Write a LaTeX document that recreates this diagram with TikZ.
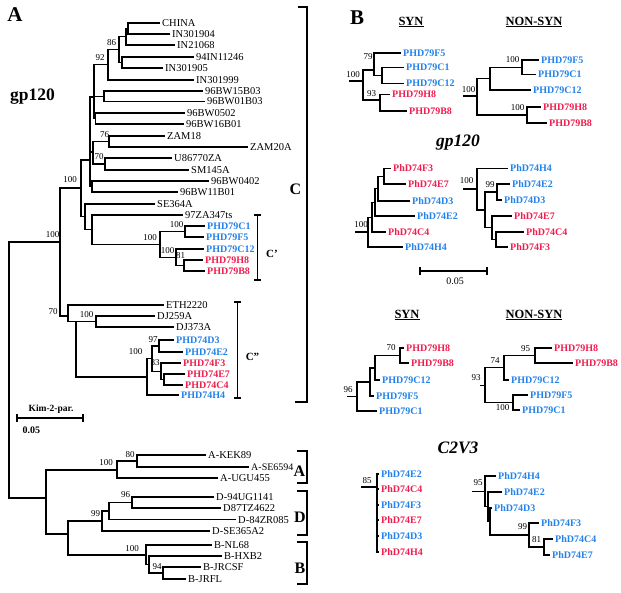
\documentclass[tikz,border=0pt]{standalone}
\usepackage{fontspec}
\setmainfont{Liberation Serif}
\newcommand{\fsz}[1]{\fontsize{#1}{#1}\selectfont}
\definecolor{tblue}{RGB}{35,130,235}
\definecolor{tred}{RGB}{240,30,80}
\tikzset{
 br/.style={line width=1.3pt},
 tipA/.style={anchor=west, inner xsep=2pt, inner ysep=0pt, text height=7pt, text depth=0pt, font=\fsz{10.5}},
 tipAc/.style={tipA, font=\bfseries\fsz{10}},
 tipB/.style={anchor=west, inner xsep=2pt, inner ysep=0pt, text height=7pt, text depth=0pt, font=\bfseries\fsz{10}},
 bs/.style={inner sep=0pt, font=\fsz{9}},
 ilab/.style={inner sep=0pt, font=\bfseries\itshape\fsz{17.5}},
 panel/.style={inner sep=0pt, font=\bfseries\fsz{21}},
 clade/.style={inner sep=0pt, font=\bfseries\fsz{16}},
 hdr/.style={inner sep=0pt, font=\bfseries\fsz{12.5}},
 blu/.style={text=tblue}, rd/.style={text=tred},
}
\newcommand{\kids}[2]{\foreach \ch in {#2} {\draw[br] (#1) |- (\ch);}}
\begin{document}
\begin{tikzpicture}[x=1pt,y=-1pt]
\useasboundingbox (0,0) rectangle (621,593);
\fill[white] (0,0) rectangle (621,593);
% ---------------- Panel A ----------------
\node[panel] (labA) at (15,15) {A};
\node[inner sep=0pt, font=\bfseries\fsz{17.5}] (gpA) at (32.5,97) {gp120};
% tips
\node[tipA] (t1) at (160,23) {CHINA};
\node[tipA] (t2) at (170,34) {IN301904};
\node[tipA] (t3) at (175,45) {IN21068};
\node[tipA] (t4) at (194,57) {94IN11246};
\node[tipA] (t5) at (163,68) {IN301905};
\node[tipA] (t6) at (194,80) {IN301999};
\node[tipA] (t7) at (203,91) {96BW15B03};
\node[tipA] (t8) at (205,101.5) {96BW01B03};
\node[tipA] (t9) at (185,113) {96BW0502};
\node[tipA] (t10) at (184,124) {96BW16B01};
\node[tipA] (t11) at (165,136) {ZAM18};
\node[tipA] (t12) at (248,147) {ZAM20A};
\node[tipA] (t13) at (172,158) {U86770ZA};
\node[tipA] (t14) at (189,170) {SM145A};
\node[tipA] (t15) at (209,181) {96BW0402};
\node[tipA] (t16) at (178,192) {96BW11B01};
\node[tipA] (t17) at (155,204) {SE364A};
\node[tipA] (t18) at (183,215) {97ZA347ts};
\node[tipAc,blu] (t19) at (205,226) {PHD79C1};
\node[tipAc,blu] (t20) at (204,237) {PHD79F5};
\node[tipAc,blu] (t21) at (204,249) {PHD79C12};
\node[tipAc,rd] (t22) at (203,260) {PHD79H8};
\node[tipAc,rd] (t23) at (205,271) {PHD79B8};
\node[tipA] (t24) at (164,305) {ETH2220};
\node[tipA] (t25) at (155,316) {DJ259A};
\node[tipA] (t26) at (174,327) {DJ373A};
\node[tipAc,blu] (t27) at (174,340) {PHD74D3};
\node[tipAc,blu] (t28) at (183,352) {PHD74E2};
\node[tipAc,rd] (t29) at (181,363) {PHD74F3};
\node[tipAc,rd] (t30) at (185,374) {PHD74E7};
\node[tipAc,rd] (t31) at (183,385) {PHD74C4};
\node[tipAc,blu] (t32) at (179,395) {PHD74H4};
\node[tipA] (t33) at (206,455) {A-KEK89};
\node[tipA, font=\fsz{10}] (t34) at (249,467) {A-SE6594};
\node[tipA] (t35) at (218,478) {A-UGU455};
\node[tipA] (t36) at (214,497) {D-94UG1141};
\node[tipA] (t37) at (221,508) {D87TZ4622};
\node[tipA] (t38) at (236,519.5) {D-84ZR085};
\node[tipA] (t39) at (210,531) {D-SE365A2};
\node[tipA] (t40) at (212,545) {B-NL68};
\node[tipA] (t41) at (222,556) {B-HXB2};
\node[tipA] (t42) at (201,567) {B-JRCSF};
\node[tipA] (t43) at (186,579) {B-JRFL};
% internal nodes
\coordinate (na) at (128,28.5);
\coordinate (nb) at (126,36.75);
\coordinate (nc) at (122,62.5);
\coordinate (nd) at (119,49.6);
\coordinate (ne) at (108,64.8);
\coordinate (nf) at (104,96.25);
\coordinate (ng) at (95.5,118.5);
\coordinate (nh) at (94,97);
\coordinate (nz) at (109,141.5);
\coordinate (nu) at (105,164);
\coordinate (nk) at (93,152);
\coordinate (nw) at (92,186.5);
\coordinate (nj) at (90,160);
\coordinate (n79a) at (185,231.5);
\coordinate (n79c) at (184,265.5);
\coordinate (n79b) at (176,257.25);
\coordinate (n79) at (160,244.4);
\coordinate (n97) at (92,229.7);
\coordinate (nse) at (85,216.85);
\coordinate (nc1) at (81,188);
\coordinate (ndj) at (96,321.5);
\coordinate (n74a) at (159,346);
\coordinate (n74e) at (164,379.5);
\coordinate (n74f) at (161,371.25);
\coordinate (n74g) at (152,358.6);
\coordinate (n74h) at (147,377);
\coordinate (n76) at (76,321.5);
\coordinate (n68) at (68,316);
\coordinate (nC) at (60,242);
\coordinate (naa) at (137,461);
\coordinate (nA) at (117,470);
\coordinate (nd2) at (132,502.5);
\coordinate (nd1) at (109,511);
\coordinate (nD) at (102,521);
\coordinate (nb3) at (163,573);
\coordinate (nb2) at (149,564.5);
\coordinate (nB) at (146,555);
\coordinate (nDB) at (68,534);
\coordinate (nABD) at (46,498);
\coordinate (root) at (9,400);
% branches
\kids{na}{t1,t2}
\kids{nb}{na,t3}
\kids{nc}{t4,t5}
\kids{nd}{nb,nc}
\kids{ne}{nd,t6}
\kids{nf}{t7,t8}
\kids{ng}{t9,t10}
\kids{nh}{ne,nf,ng}
\kids{nz}{t11,t12}
\kids{nu}{t13,t14}
\kids{nk}{nz,nu}
\kids{nw}{t15,t16}
\kids{nj}{nh,nk,nw}
\kids{n79a}{t19,t20}
\kids{n79c}{t22,t23}
\kids{n79b}{t21,n79c}
\kids{n79}{n79a,n79b}
\kids{n97}{t18,n79}
\kids{nse}{t17,n97}
\kids{nc1}{nj,nse}
\kids{ndj}{t25,t26}
\kids{n74a}{t27,t28}
\kids{n74e}{t30,t31}
\kids{n74f}{t29,n74e}
\kids{n74g}{n74a,n74f}
\kids{n74h}{n74g,t32}
\kids{n76}{ndj,n74h}
\kids{n68}{t24,n76}
\kids{nC}{nc1,n68}
\kids{naa}{t33,t34}
\kids{nA}{naa,t35}
\kids{nd2}{t36,t37}
\kids{nd1}{nd2,t38}
\kids{nD}{nd1,t39}
\kids{nb3}{t42,t43}
\kids{nb2}{t41,nb3}
\kids{nB}{t40,nb2}
\kids{nDB}{nD,nB}
\kids{nABD}{nA,nDB}
\kids{root}{nC,nABD}
% bootstrap values
\node[bs] (bv1) at (111.5,42.5) {86};
\node[bs] (bv2) at (100,57.5) {92};
\node[bs] (bv3) at (104.5,135) {76};
\node[bs] (bv4) at (99,156.5) {70};
\node[bs] (bv5) at (70,180) {100};
\node[bs] (bv6) at (52.5,235) {100};
\node[bs] (bv7) at (176.5,225) {100};
\node[bs] (bv8) at (150,238) {100};
\node[bs] (bv9) at (167.5,251) {100};
\node[bs] (bv10) at (180.5,256) {81};
\node[bs] (bv11) at (53,312) {70};
\node[bs] (bv12) at (86.5,315) {100};
\node[bs] (bv13) at (153,339.5) {97};
\node[bs] (bv14) at (135.5,352) {100};
\node[bs] (bv15) at (155,363) {83};
\node[bs] (bv16) at (130,454.5) {80};
\node[bs] (bv17) at (106,462.5) {100};
\node[bs] (bv18) at (125.5,494.5) {96};
\node[bs] (bv19) at (95.5,514) {99};
\node[bs] (bv20) at (132,549) {100};
\node[bs] (bv21) at (157,567) {94};
% clade brackets
\draw[br] (298,7) -- (307,7) -- (307,402) -- (295,402);
\node[clade] (cC) at (295.5,189) {C};
\draw[br] (254,215) -- (261,215) (257.5,215) -- (257.5,280) (254,280) -- (261,280);
\node[inner sep=0pt, font=\bfseries\fsz{11}] (cC1) at (272,254) {C'};
\draw[br] (234,302) -- (241,302) (237.5,302) -- (237.5,398) (234,398) -- (241,398);
\node[inner sep=0pt, font=\bfseries\fsz{11}] (cC2) at (252.5,357) {C''};
\draw[br] (297,451) -- (307,451) -- (307,483) -- (297,483);
\node[clade] (cA) at (299.5,471) {A};
\draw[br] (297,491) -- (307,491) -- (307,535) -- (297,535);
\node[clade] (cD) at (300,517.5) {D};
\draw[br] (297,542) -- (307,542) -- (307,584) -- (297,584);
\node[clade] (cB) at (300,568.5) {B};
% scale bar A
\draw[br] (17,414) -- (17,422) (17,418) -- (83,418) (83,414) -- (83,422);
\node[inner sep=0pt, font=\bfseries\fsz{9.5}] (kim) at (51,409) {Kim-2-par.};
\node[inner sep=0pt, font=\bfseries\fsz{10}] (sc1) at (31.5,430) {0.05};
% ---------------- Panel B ----------------
\node[panel] (labB) at (357,18) {B};
\node[hdr] (h1) at (411,22) {\underline{SYN}};
\node[hdr] (h2) at (534,22) {\underline{NON-SYN}};
\node[hdr] (h3) at (407,315) {\underline{SYN}};
\node[hdr] (h4) at (534,315) {\underline{NON-SYN}};
\node[ilab] (g1) at (458,143) {gp120};
\node[ilab] (g2) at (458,448) {C2V3};
% B1
\node[tipB,blu] (u1) at (401,53) {PHD79F5};
\node[tipB,blu] (u2) at (404,67.5) {PHD79C1};
\node[tipB,blu] (u3) at (404,83.5) {PHD79C12};
\node[tipB,rd] (u4) at (390,94.5) {PHD79H8};
\node[tipB,rd] (u5) at (407,111) {PHD79B8};
\coordinate (s1) at (349,81);
\coordinate (b1r) at (363,81);
\coordinate (b1n) at (374,70);
\coordinate (b1a) at (382,75.5);
\coordinate (b1h) at (380,100);
\draw[br] (s1) -- (b1r);
\kids{b1r}{b1n,b1h}
\kids{b1n}{u1,b1a}
\kids{b1a}{u2,u3}
\kids{b1h}{u4,u5}
\node[bs] (bb1) at (368,56.5) {79};
\node[bs] (bb2) at (353,75) {100};
\node[bs] (bb3) at (371.5,94) {93};
% B2
\node[tipB,blu] (v1) at (539,60) {PHD79F5};
\node[tipB,blu] (v2) at (536,74.5) {PHD79C1};
\node[tipB,blu] (v3) at (531,90) {PHD79C12};
\node[tipB,rd] (v4) at (541,107) {PHD79H8};
\node[tipB,rd] (v5) at (547,123) {PHD79B8};
\coordinate (s2) at (463,96);
\coordinate (b2r) at (477,96);
\coordinate (b2b) at (490,78.5);
\coordinate (b2a) at (522,67.25);
\coordinate (b2c) at (527,115);
\draw[br] (s2) -- (b2r);
\kids{b2r}{b2b,b2c}
\kids{b2b}{b2a,v3}
\kids{b2a}{v1,v2}
\kids{b2c}{v4,v5}
\node[bs] (bb4) at (512.5,60) {100};
\node[bs] (bb5) at (517.5,107.5) {100};
\node[bs] (bb6) at (468.5,89.5) {100};
% B3
\node[tipB,rd] (w1) at (391,168.5) {PhD74F3};
\node[tipB,rd] (w2) at (406,184) {PhD74E7};
\node[tipB,blu] (w3) at (410,201) {PhD74D3};
\node[tipB,blu] (w4) at (415,216) {PhD74E2};
\node[tipB,rd] (w5) at (386,232) {PhD74C4};
\node[tipB,blu] (w6) at (403,247) {PhD74H4};
\coordinate (s3) at (355,232);
\coordinate (b3e) at (368,232);
\coordinate (b3d) at (372,217.2);
\coordinate (b3c) at (375,202.3);
\coordinate (b3b) at (378,188.6);
\coordinate (b3a) at (384,176.25);
\draw[br] (s3) -- (b3e);
\kids{b3e}{b3d,w6}
\kids{b3d}{b3c,w5}
\kids{b3c}{b3b,w4}
\kids{b3b}{b3a,w3}
\kids{b3a}{w1,w2}
\node[bs] (bb7) at (361,225) {100};
% B4
\node[tipB,blu] (x1) at (508,168.5) {PhD74H4};
\node[tipB,blu] (x2) at (510,184) {PhD74E2};
\node[tipB,blu] (x3) at (502,200) {PhD74D3};
\node[tipB,rd] (x4) at (512,216) {PhD74E7};
\node[tipB,rd] (x5) at (524,232) {PhD74C4};
\node[tipB,rd] (x6) at (508,247) {PhD74F3};
\coordinate (s4) at (463,189);
\coordinate (r4) at (477,189);
\coordinate (b4a) at (485,209.9);
\coordinate (b4b) at (497,192);
\coordinate (b4c) at (492,227.75);
\coordinate (b4d) at (496,239.5);
\draw[br] (s4) -- (r4);
\kids{r4}{x1,b4a}
\kids{b4a}{b4b,b4c}
\kids{b4b}{x2,x3}
\kids{b4c}{x4,b4d}
\kids{b4d}{x5,x6}
\node[bs] (bb8) at (466.5,181) {100};
\node[bs] (bb9) at (490,185) {99};
% scale bar B
\draw[br] (420,267) -- (420,275) (420,271) -- (487,271) (487,267) -- (487,275);
\node[inner sep=0pt, font=\fsz{10}] (sc2) at (455,281) {0.05};
% B5
\node[tipB,rd] (y1) at (404,348) {PHD79H8};
\node[tipB,rd] (y2) at (409,363) {PHD79B8};
\node[tipB,blu] (y3) at (380,380) {PHD79C12};
\node[tipB,blu] (y4) at (374,396) {PHD79F5};
\node[tipB,blu] (y5) at (377,411) {PHD79C1};
\coordinate (s5) at (347,396.5);
\coordinate (b5d) at (357,396.5);
\coordinate (b5c) at (370,382);
\coordinate (b5b) at (375,368);
\coordinate (b5a) at (400,355.5);
\draw[br] (s5) -- (b5d);
\kids{b5d}{b5c,y5}
\kids{b5c}{b5b,y4}
\kids{b5b}{b5a,y3}
\kids{b5a}{y1,y2}
\node[bs] (bb10) at (391,348) {70};
\node[bs] (bb11) at (348,390) {96};
% B6
\node[tipB,rd] (z1) at (552,348) {PHD79H8};
\node[tipB,rd] (z2) at (573,363) {PHD79B8};
\node[tipB,blu] (z3) at (509,380) {PHD79C12};
\node[tipB,blu] (z4) at (528,395) {PHD79F5};
\node[tipB,blu] (z5) at (520,410) {PHD79C1};
\coordinate (s6) at (480,385.6);
\coordinate (b6r) at (485,385.6);
\coordinate (b6b) at (504,367.75);
\coordinate (b6a) at (535,355.5);
\coordinate (b6c) at (513,402.5);
\draw[br] (s6) -- (b6r);
\kids{b6r}{b6b,b6c}
\kids{b6b}{b6a,z3}
\kids{b6a}{z1,z2}
\kids{b6c}{z4,z5}
\node[bs] (bb12) at (525.5,349) {95};
\node[bs] (bb13) at (495,361) {74};
\node[bs] (bb14) at (476,378) {93};
\node[bs] (bb15) at (502.5,408) {100};
% B7
\node[tipB,blu] (p1) at (379,474) {PhD74E2};
\node[tipB,rd] (p2) at (379,489) {PhD74C4};
\node[tipB,blu] (p3) at (379,505) {PhD74F3};
\node[tipB,rd] (p4) at (379,520) {PhD74E7};
\node[tipB,blu] (p5) at (379,536) {PhD74D3};
\node[tipB,rd] (p6) at (379,552) {PhD74H4};
\coordinate (s7) at (361,487);
\coordinate (r7) at (377,487);
\draw[br] (s7) -- (r7);
\kids{r7}{p1,p2,p3,p4,p5,p6}
\draw[line width=1.9pt] (377.3,478) -- (377.3,552);
\node[bs] (bb16) at (367,481) {85};
% B8
\node[tipB,blu] (q1) at (496,476) {PhD74H4};
\node[tipB,blu] (q2) at (502,492) {PhD74E2};
\node[tipB,blu] (q3) at (492,508) {PhD74D3};
\node[tipB,blu] (q4) at (539,523) {PhD74F3};
\node[tipB,blu] (q5) at (553,539) {PhD74C4};
\node[tipB,blu] (q6) at (550,555) {PhD74E7};
\coordinate (s8) at (472,491.4);
\coordinate (r8) at (485,491.4);
\coordinate (b8a) at (488,506.75);
\coordinate (b8b) at (490,521.5);
\coordinate (b8c) at (529,535);
\coordinate (b8d) at (544,547);
\draw[br] (s8) -- (r8);
\kids{r8}{q1,b8a}
\kids{b8a}{q2,b8b}
\kids{b8b}{q3,b8c}
\kids{b8c}{q4,b8d}
\kids{b8d}{q5,q6}
\node[bs] (bb17) at (478,483) {95};
\node[bs] (bb18) at (522.5,527) {99};
\node[bs] (bb19) at (536.5,540) {81};
\end{tikzpicture}
\end{document}
